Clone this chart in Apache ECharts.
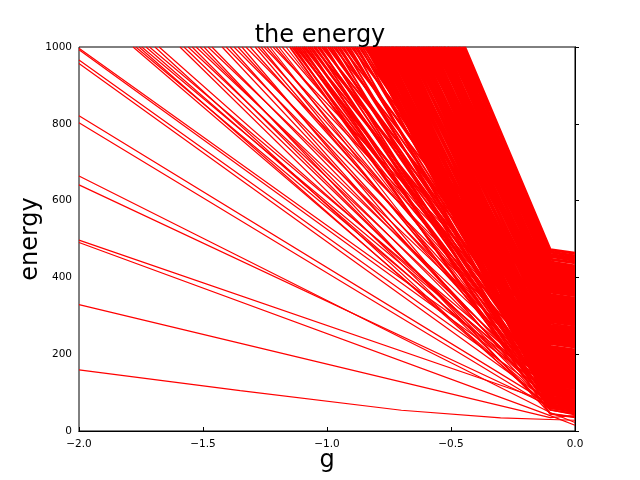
<!DOCTYPE html>
<html>
<head>
<meta charset="utf-8">
<title>the energy</title>
<script src="https://cdn.jsdelivr.net/npm/echarts@6/dist/echarts.min.js"></script>
<style>
  html, body { margin: 0; padding: 0; background: #fff; }
  #chart { width: 640px; height: 480px; }
</style>
</head>
<body>
<div id="chart"></div>
<script>
var xTicks = [-2.0, -1.5, -1.0, -0.5, 0.0];
var yTicks = [0, 200, 400, 600, 800, 1000];
var kneeG = -0.1;

// lowest level, bends a bit on the way down
var groundG = [-2, -1.35, -0.7, -0.3, -0.1, 0];
var groundE = [159, 105, 54, 34, 30, 28];

// levels that leave the left edge (g = -2)
var leftStartE = [997, 993, 966, 957, 821, 803, 664, 641, 497, 491, 329];
var leftKneeE  = [120, 105, 90, 75, 70, 60, 48, 65, 75, 40, 35];
var leftEndE   = [95, 80, 70, 60, 55, 50, 22, 52, 62, 15, 40];

// sparse levels entering through the top (E = 1000)
var sparseTopG = [-1.782, -1.771, -1.758, -1.747, -1.730, -1.716, -1.694, -1.677,
  -1.593, -1.577, -1.560, -1.544, -1.528, -1.512, -1.496, -1.480, -1.464,
  -1.423, -1.407, -1.391, -1.375, -1.359, -1.343, -1.327, -1.310,
  -1.290, -1.278, -1.266, -1.254, -1.242, -1.230, -1.218, -1.206, -1.194, -1.181, -1.165];
var sparseKneeE = [70, 95, 60, 110, 85, 120, 55, 100,
  55, 80, 115, 65, 135, 90, 45, 150, 100,
  90, 140, 70, 170, 110, 60, 195, 125,
  100, 160, 80, 215, 130, 70, 245, 150, 95, 185, 120];
var sparseEndE = [58, 80, 48, 92, 70, 104, 42, 86,
  46, 68, 98, 54, 118, 76, 36, 132, 86,
  76, 122, 58, 150, 94, 50, 172, 108,
  86, 140, 66, 190, 112, 58, 220, 132, 80, 162, 104];

// denser band
var denseTopG = [-1.150, -1.141, -1.133, -1.126, -1.117, -1.110, -1.101, -1.094, -1.086, -1.077,
  -1.070, -1.062, -1.053, -1.046, -1.037, -1.030, -1.021, -1.013, -1.006, -0.997,
  -0.989, -0.981, -0.973, -0.965, -0.957, -0.949, -0.941, -0.933, -0.925, -0.918,
  -0.910, -0.902, -0.894, -0.887, -0.879, -0.871, -0.864, -0.857, -0.850, -0.844];
var denseKneeE = [60, 120, 45, 180, 90, 150, 70, 210, 110, 55,
  170, 130, 240, 85, 190, 100, 260, 140, 65, 220,
  160, 115, 280, 75, 200, 135, 300, 95, 250, 170,
  125, 320, 80, 230, 150, 270, 105, 190, 340, 140];
var denseEndE = [50, 110, 36, 170, 80, 140, 60, 200, 100, 45,
  160, 120, 230, 75, 180, 90, 250, 130, 55, 210,
  150, 105, 270, 65, 190, 125, 290, 85, 240, 160,
  115, 310, 70, 220, 140, 260, 95, 180, 330, 130];

// the solid block on the right
var solidTopG = [-0.840, -0.835, -0.831, -0.826, -0.820, -0.815, -0.811, -0.805, -0.800, -0.796,
  -0.790, -0.785, -0.781, -0.775, -0.770, -0.766, -0.760, -0.755, -0.751, -0.745,
  -0.740, -0.736, -0.730, -0.725, -0.721, -0.715, -0.710, -0.706, -0.700, -0.695,
  -0.691, -0.685, -0.680, -0.676, -0.670, -0.665, -0.661, -0.655, -0.650, -0.646,
  -0.640, -0.635, -0.631, -0.625, -0.620, -0.616, -0.610, -0.605, -0.601, -0.595,
  -0.590, -0.586, -0.580, -0.575, -0.571, -0.565, -0.560, -0.556, -0.550, -0.545,
  -0.541, -0.535, -0.530, -0.526, -0.520, -0.515, -0.511, -0.505, -0.500, -0.496,
  -0.490, -0.485, -0.481, -0.475, -0.470, -0.466, -0.460, -0.455, -0.450, -0.445];
var solidKneeE = [85, 65, 130, 95, 75, 150, 110, 80, 170, 120,
  140, 100, 190, 125, 160, 105, 210, 155, 135, 185,
  175, 230, 145, 200, 180, 250, 165, 215, 195, 235,
  220, 183, 265, 240, 205, 290, 255, 228, 275, 212,
  300, 260, 320, 285, 245, 340, 305, 270, 330, 310,
  350, 315, 370, 335, 295, 385, 355, 325, 380, 362,
  395, 367, 415, 390, 345, 430, 405, 375, 425, 410,
  440, 420, 455, 435, 400, 460, 447, 428, 466, 472];
var solidEndE = [76, 56, 121, 86, 66, 141, 101, 72, 161, 111,
  131, 91, 181, 116, 151, 96, 201, 146, 126, 176,
  166, 221, 136, 191, 171, 241, 156, 206, 186, 226,
  211, 174, 256, 231, 196, 281, 246, 219, 266, 203,
  291, 251, 311, 276, 236, 331, 296, 261, 321, 301,
  341, 306, 361, 326, 286, 376, 346, 316, 371, 353,
  386, 358, 406, 381, 336, 421, 396, 366, 416, 401,
  430, 411, 444, 426, 391, 450, 438, 419, 456, 463];

var series = [];
function addLine(pts, w) {
  series.push({
    type: 'line',
    data: pts,
    showSymbol: false,
    silent: true,
    lineStyle: { color: '#ff0000', width: w }
  });
}

addLine(groundG.map(function (g, i) { return [g, groundE[i]]; }), 1.2);
leftStartE.forEach(function (e, i) {
  addLine([[-2, e], [kneeG, leftKneeE[i]], [0, leftEndE[i]]], 1.2);
});
function addTopSet(tops, knees, ends, w) {
  tops.forEach(function (g, i) {
    addLine([[g, 1000], [kneeG, knees[i]], [0, ends[i]]], w);
  });
}
addTopSet(sparseTopG, sparseKneeE, sparseEndE, 1.2);
addTopSet(denseTopG, denseKneeE, denseEndE, 2);
addTopSet(solidTopG, solidKneeE, solidEndE, 3);

var fmtX = function (v) { return v.toFixed(1).replace('-', '\u2212'); };
var fmtY = function (v) { return String(v); };
var tickLabel = { color: '#000', fontSize: 10.5, fontFamily: 'DejaVu Sans' };
var tickStyle = { color: '#000', width: 1 };
var nameStyle = { fontFamily: 'DejaVu Sans', fontSize: 24, color: '#000' };

var chart = echarts.init(document.getElementById('chart'));
chart.setOption({
  animation: false,
  backgroundColor: '#fff',
  title: {
    text: 'the energy',
    left: 'center',
    top: 19,
    textStyle: { fontFamily: 'DejaVu Sans', fontSize: 24, fontWeight: 'normal', color: '#000' }
  },
  grid: {
    left: 79, top: 47, width: 496, height: 384,
    outerBoundsMode: 'none', containLabel: false,
    show: true, borderColor: '#000', borderWidth: 1, backgroundColor: 'transparent'
  },
  xAxis: [{
    type: 'value', min: xTicks[0], max: xTicks[xTicks.length - 1], interval: 0.5, z: 10,
    name: 'g', nameLocation: 'middle', nameGap: 18, nameMoveOverlap: false,
    nameTextStyle: nameStyle,
    axisLine: { show: true, lineStyle: { color: '#000' } },
    axisTick: { inside: true, length: 4, lineStyle: tickStyle },
    axisLabel: Object.assign({ formatter: fmtX, margin: 8 }, tickLabel),
    splitLine: { show: false }
  }, {
    type: 'value', position: 'top', min: xTicks[0], max: xTicks[xTicks.length - 1], interval: 0.5, z: 10,
    axisLine: { show: true, lineStyle: { color: '#000' } },
    axisTick: { inside: false, length: 4, lineStyle: tickStyle },
    axisLabel: { show: false },
    splitLine: { show: false }
  }],
  yAxis: [{
    type: 'value', min: yTicks[0], max: yTicks[yTicks.length - 1], interval: 200, z: 10,
    name: 'energy', nameLocation: 'middle', nameGap: 36, nameRotate: 90, nameMoveOverlap: false,
    nameTextStyle: nameStyle,
    axisLine: { show: true, lineStyle: { color: '#000' } },
    axisTick: { inside: true, length: 4, lineStyle: tickStyle },
    axisLabel: Object.assign({ formatter: fmtY, margin: 7 }, tickLabel),
    splitLine: { show: false }
  }, {
    type: 'value', position: 'right', min: yTicks[0], max: yTicks[yTicks.length - 1], interval: 200, z: 10,
    axisLine: { show: true, lineStyle: { color: '#000' } },
    axisTick: { inside: false, length: 4, lineStyle: tickStyle },
    axisLabel: { show: false },
    splitLine: { show: false }
  }],
  series: series
});
</script>
</body>
</html>
